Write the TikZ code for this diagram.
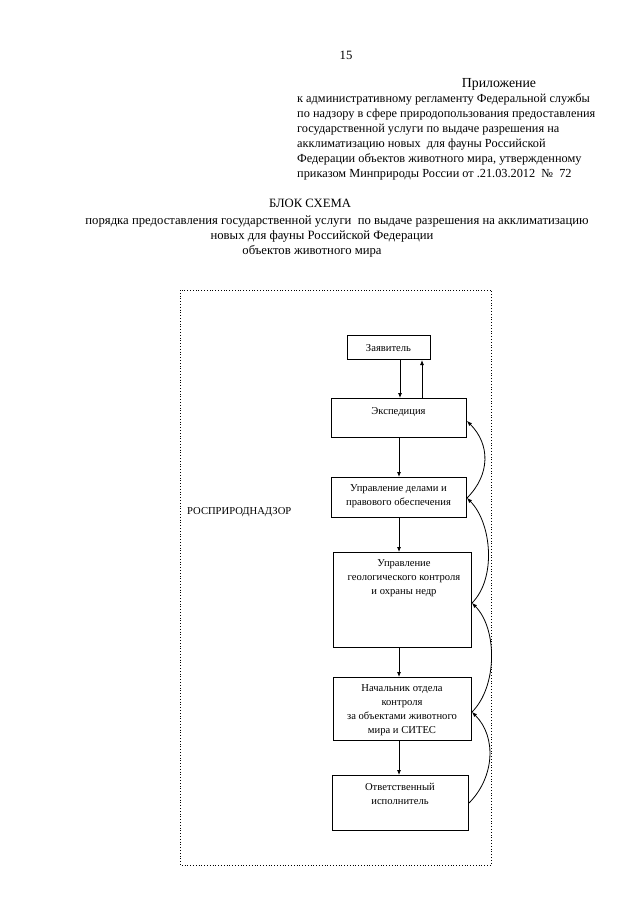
\documentclass[tikz,border=0pt]{standalone}
\usepackage{fontspec}
\setmainfont{Liberation Serif}
\usetikzlibrary{arrows.meta}
\begin{document}
\begin{tikzpicture}[x=1pt,y=-1pt,
  body/.style={font=\fontsize{12.7}{15}\selectfont, inner sep=0pt},
  head/.style={font=\fontsize{12.3}{15}\selectfont, inner sep=0pt},
  boxtxt/.style={font=\fontsize{10.6}{14}\selectfont, inner sep=0pt, align=center},
  stepbox/.style={draw, line width=1pt},
  flow/.style={line width=0.8pt, -{Latex[length=5pt,width=4pt]}},
  frame/.style={dotted, line width=0.8pt}]
\fill[white] (0,0) rectangle (640,905);
\useasboundingbox (0,0) rectangle (640,905);

% header
\node[body, anchor=base] (pg) at (346,59) {15};
\node[font=\fontsize{13.8}{15}\selectfont, inner sep=0pt, anchor=base] (h0) at (499,87) {Приложение};
\node[head, anchor=base west] (h1) at (297,102) {к административному регламенту Федеральной службы};
\node[head, anchor=base west] (h2) at (297,117) {по надзору в сфере природопользования предоставления};
\node[head, anchor=base west] (h3) at (297,132) {государственной услуги по выдаче разрешения на};
\node[head, anchor=base west] (h4) at (297,147) {акклиматизацию новых \ для фауны Российской};
\node[head, anchor=base west] (h5) at (297,162) {Федерации объектов животного мира, утвержденному};
\node[head, anchor=base west] (h6) at (297,177) {приказом Минприроды России от .21.03.2012 \ № \ 72};

\node[body, anchor=base] (t0) at (310,207) {БЛОК СХЕМА};
\node[body, anchor=base] (t1) at (337,224) {порядка предоставления государственной услуги \ по выдаче разрешения на акклиматизацию};
\node[body, anchor=base] (t2) at (322,239) {новых для фауны Российской Федерации};
\node[body, anchor=base] (t3) at (312,254) {объектов животного мира};

% frame
\draw[frame] (180,290) rectangle (491,865);
\node[boxtxt, anchor=base west] (org) at (187,514) {РОСПРИРОДНАДЗОР};

% boxes
\node[stepbox, minimum width=83pt, minimum height=24pt, anchor=north west] (zay) at (347,335) {};
\node[stepbox, minimum width=135pt, minimum height=39pt, anchor=north west] (exp) at (331,398) {};
\node[stepbox, minimum width=135pt, minimum height=40pt, anchor=north west] (ud) at (331,477) {};
\node[stepbox, minimum width=138pt, minimum height=95pt, anchor=north west] (ug) at (333,552) {};
\node[stepbox, minimum width=138pt, minimum height=63pt, anchor=north west] (nach) at (333,677) {};
\node[stepbox, minimum width=136pt, minimum height=55pt, anchor=north west] (otv) at (332,775) {};

% box texts
\node[boxtxt, anchor=base] (zayT) at (388.5,351) {Заявитель};
\node[boxtxt, anchor=base] (expT) at (398.5,414) {Экспедиция};
\node[boxtxt, anchor=north] (udT) at (398.5,484.5) {Управление делами и\\правового обеспечения};
\node[boxtxt, anchor=north] (ugT) at (404,559.5) {Управление\\геологического контроля\\и охраны недр};
\node[boxtxt, anchor=north] (nachT) at (402,684.5) {Начальник отдела\\контроля\\за объектами животного\\мира и СИТЕС};
\node[boxtxt, anchor=north] (otvT) at (400,783.5) {Ответственный\\исполнитель};

% vertical arrows
\draw[flow] (zay.south -| 400,0) -- (exp.north -| 400,0);
\draw[flow] (exp.north -| 422,0) -- (zay.south -| 422,0);
\draw[flow] (exp.south -| 399,0) -- (ud.north -| 399,0);
\draw[flow] (ud.south -| 399,0) -- (ug.north -| 399,0);
\draw[flow] (ug.south -| 399,0) -- (nach.north -| 399,0);
\draw[flow] (nach.south -| 399,0) -- (otv.north -| 399,0);

% return arrows on the right
\draw[flow] (otv.east |- 0,803) to[out=45,in=-45] (nach.east |- 0,712);
\draw[flow] (nach.east |- 0,712) to[out=45,in=-45,looseness=0.85] (ug.east |- 0,603);
\draw[flow] (ug.east |- 0,603) to[out=45,in=-45,looseness=0.85] (ud.east |- 0,498);
\draw[flow] (ud.east |- 0,498) to[out=45,in=-45,looseness=1.1] (exp.east |- 0,421);
\end{tikzpicture}
\end{document}
